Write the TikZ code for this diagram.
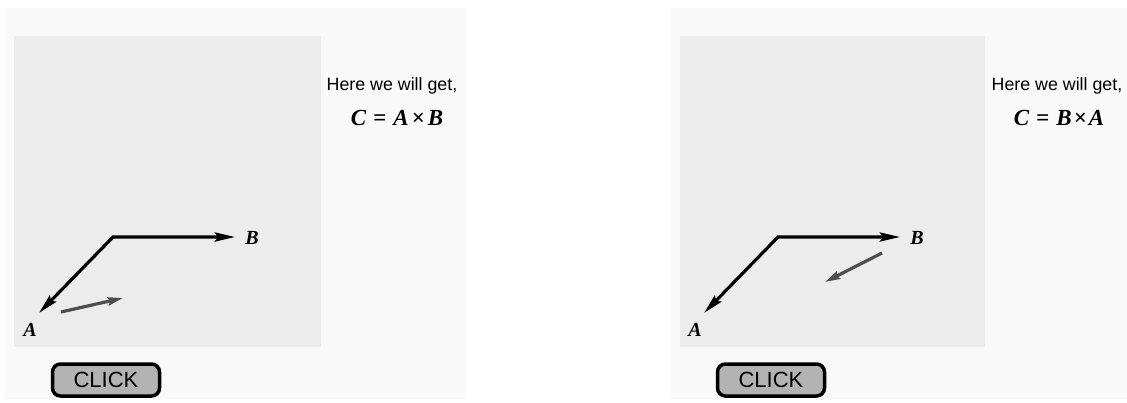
\documentclass[tikz,border=0pt]{standalone}
\usepackage{fontspec}
\setmainfont{Liberation Serif}
\setsansfont{Liberation Sans}
\usetikzlibrary{arrows.meta}
\definecolor{panelbg}{HTML}{F9F9F9}
\definecolor{boardbg}{HTML}{ECECEC}
\definecolor{btnfill}{HTML}{B3B3B3}
\definecolor{arrgray}{HTML}{4D4D4D}

\begin{document}
\begin{tikzpicture}[x=1pt,y=-1pt, >={Stealth[length=20pt,width=9pt,inset=3pt]},
  vec/.style={line width=3.2pt, line join=miter, black},
  cvec/.style={-{Stealth[length=15pt,width=8pt,inset=2pt]}, line width=3.2pt, arrgray},
  vlabel/.style={font=\fontsize{20}{20}\selectfont\bfseries\itshape, inner sep=0pt},
  note/.style={font=\sffamily\fontsize{17.8}{18}\selectfont, inner sep=0pt},
  formula/.style={font=\fontsize{23}{23}\selectfont\bfseries\itshape, inner sep=0pt},
  clickbtn/.style={draw, line width=3.5pt, fill=btnfill, rounded corners=8pt,
    minimum width=107pt, minimum height=32pt, inner sep=0pt,
    font=\sffamily\fontsize{22}{22}\selectfont}]
\useasboundingbox[fill=white] (0,0) rectangle (1127,402);

% left panel: C = A x B
\begin{scope}
\fill[panelbg] (5,8) rectangle (466,399);
\fill[boardbg] (14,36) rectangle (321,347);
\node[note] (noteL) at (392,86) {Here we will get,};
\node[formula] (eqL) at (397,118) {C\hspace{7pt}=\hspace{7pt}A\hspace{3pt}×\hspace{3pt}B};
\coordinate (oL) at (113,237);
\coordinate (tipBL) at (235,237);
\coordinate (tipAL) at (39,313);
\node[vlabel] (BL) at (252,238) {B};
\node[vlabel] (AL) at (30,330) {A};
\draw[vec, <->] (tipAL) -- (oL) -- (tipBL);
\coordinate (cL1) at (61,312);
\coordinate (cL2) at (123,298);
\draw[cvec] (cL1) -- (cL2);
\node[clickbtn] (btnL) at (106,380) {CLICK};
\end{scope}

% right panel: C = B x A
\begin{scope}[xshift=666pt]
\fill[panelbg] (5,8) rectangle (466,399);
\fill[boardbg] (14,36) rectangle (319,347);
\node[note] (noteR) at (391,86) {Here we will get,};
\node[formula] (eqR) at (393,118) {C\hspace{7pt}=\hspace{7pt}B\hspace{2pt}×\hspace{2pt}A};
\coordinate (oR) at (112,237);
\coordinate (tipBR) at (234,237);
\coordinate (tipAR) at (38,313);
\node[vlabel] (BR) at (251,238) {B};
\node[vlabel] (AR) at (29,330) {A};
\draw[vec, <->] (tipAR) -- (oR) -- (tipBR);
\coordinate (cR1) at (216,253);
\coordinate (cR2) at (159,282);
\draw[cvec] (cR1) -- (cR2);
\node[clickbtn] (btnR) at (105,380) {CLICK};
\end{scope}
\end{tikzpicture}
\end{document}
